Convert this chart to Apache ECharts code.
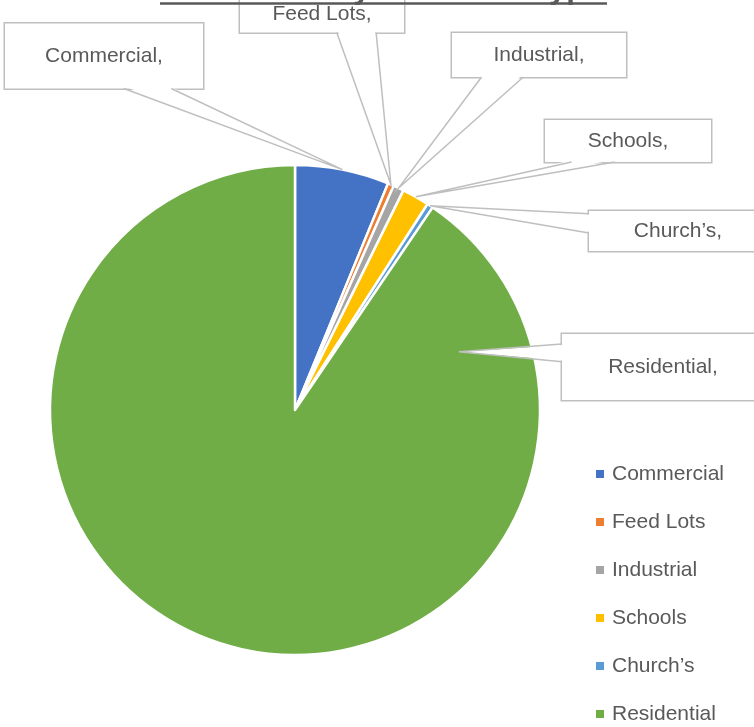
<!DOCTYPE html>
<html><head><meta charset="utf-8">
<script src="https://cdn.jsdelivr.net/npm/echarts@6/dist/echarts.min.js"></script>
<style>html,body{margin:0;padding:0;background:#fff}#c{width:754px;height:727px}</style>
</head><body><div id="c"></div>
<script>
// ---- data ----
const categories = ['Commercial', 'Feed Lots', 'Industrial', 'Schools', 'Church’s', 'Residential'];
const values = [6.2, 0.4, 0.7, 1.8, 0.4, 90.5];
const titleText = 'Customers by Customer Type';

// ---- styles ----
const colors = ['#4472C4', '#ED7D31', '#A5A5A5', '#FFC000', '#5B9BD5', '#70AD47'];
// callout boxes: [centerX, centerY, width, height]
const boxes = [[104, 56, 198, 65], [322, 14, 164, 37], [539, 55, 174, 44], [628, 141, 166, 42], [678, 231, 178, 40], [663, 367, 202, 66]];
// callout tail base: [side, fraction1, fraction2]
const tailBase = [['bottom', 0.6, 0.84], ['bottom', 0.59, 0.83], ['bottom', 0.17, 0.41], ['bottom', 0.16, 0.42], ['left', 0.07, 0.55], ['left', 0.15, 0.42]];
// tail tip override for slices whose callout points inside: [angleDeg, radiusFraction]
const tipOverride = [null, null, null, null, null, [70.4, 0.71]];
const CENTER = [295, 410];
const RADIUS = 245;
const FONT = 'Liberation Sans';
const TXT = '#595959';
const LINE = '#bfbfbf';

const chart = echarts.init(document.getElementById('c'), null, {renderer: 'canvas'});
const data = categories.map((name, i) => ({
  name: name,
  value: values[i],
  itemStyle: {color: colors[i]},
  label: {width: boxes[i][2], height: boxes[i][3] - 4, lineHeight: boxes[i][3] - 4}
}));

// callout tails, derived from slice angles
const total = values.reduce((a, b) => a + b, 0);
let cum = 0;
const tails = [];
values.forEach((v, i) => {
  let ang = (cum + v / 2) / total * 360;
  let rf = 1.0;
  cum += v;
  if (tipOverride[i]) { ang = tipOverride[i][0]; rf = tipOverride[i][1]; }
  const rad = ang * Math.PI / 180;
  const tip = [CENTER[0] + RADIUS * rf * Math.sin(rad), CENTER[1] - RADIUS * rf * Math.cos(rad)];
  const b = boxes[i];
  const x0 = b[0] - b[2] / 2, y0 = b[1] - b[3] / 2;
  const tb = tailBase[i];
  let p1, p2, q1, q2;
  if (tb[0] === 'bottom') {
    const yb = y0 + b[3];
    p1 = [x0 + tb[1] * b[2], yb]; p2 = [x0 + tb[2] * b[2], yb];
    q1 = [p1[0] + 1, yb - 2]; q2 = [p2[0] - 1, yb - 2];
  } else {
    p1 = [x0, y0 + tb[1] * b[3]]; p2 = [x0, y0 + tb[2] * b[3]];
    q1 = [x0 + 2, p1[1] + 1]; q2 = [x0 + 2, p2[1] - 1];
  }
  tails.push({type: 'polygon', z: 20, silent: true, shape: {points: [q1, tip, q2]}, style: {fill: '#fff', stroke: null}});
  tails.push({type: 'polyline', z: 21, silent: true, shape: {points: [p1, tip, p2]}, style: {stroke: LINE, lineWidth: 1.5, fill: null}});
});

chart.setOption({
  animation: false,
  backgroundColor: '#fff',
  graphic: [
    {type: 'text', z: 10, x: 0, y: 0, style: {text: titleText, x: 383, y: 5, font: 'bold 31px "' + FONT + '"', fill: TXT, textAlign: 'center', textVerticalAlign: 'bottom'}},
    {type: 'line', z: 10, shape: {x1: 160, y1: 3.5, x2: 607, y2: 3.5}, style: {stroke: TXT, lineWidth: 2.5}}
  ].concat(tails),
  legend: {
    orient: 'vertical',
    left: 596,
    top: 463.5,
    height: 300,
    padding: 0,
    icon: 'rect',
    itemWidth: 8,
    itemHeight: 8,
    itemGap: 27,
    itemStyle: {borderWidth: 0},
    data: categories,
    textStyle: {fontFamily: FONT, fontSize: 21, color: TXT, lineHeight: 21, padding: [0, 0, 0, 3]}
  },
  series: [{
    type: 'pie',
    center: CENTER,
    radius: RADIUS,
    startAngle: 90,
    clockwise: true,
    avoidLabelOverlap: false,
    itemStyle: {borderColor: '#fff', borderWidth: 2.5},
    emphasis: {disabled: true},
    label: {
      show: true,
      formatter: '{b},',
      fontFamily: FONT,
      fontSize: 21,
      color: TXT,
      backgroundColor: '#fff',
      borderColor: LINE,
      borderWidth: 1.5,
      padding: [4, 0, 0, 0],
      align: 'center',
      verticalAlign: 'middle'
    },
    labelLine: {show: false},
    labelLayout: function (p) {
      const b = boxes[p.dataIndex];
      return {x: b[0], y: b[1], align: 'center', verticalAlign: 'middle'};
    },
    data: data
  }]
});
</script>
</body></html>
